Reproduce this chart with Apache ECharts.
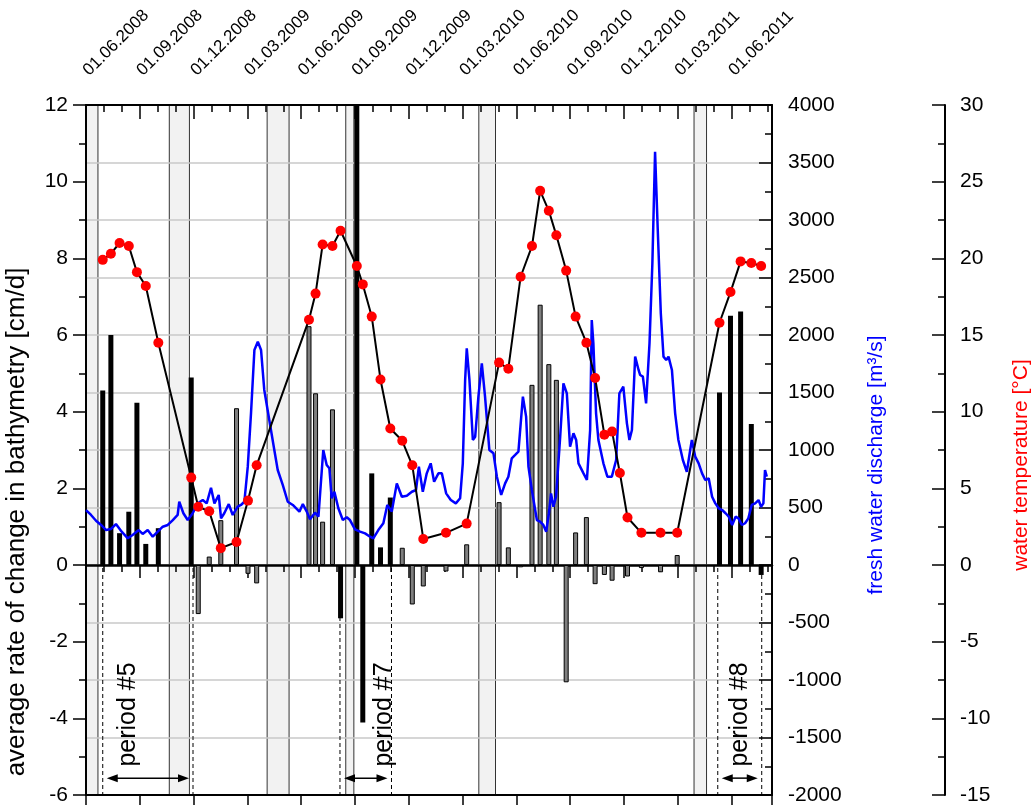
<!DOCTYPE html>
<html lang="en">
<head>
<meta charset="UTF-8">
<title>bathymetry change, discharge, water temperature</title>
<script src="https://cdn.jsdelivr.net/npm/echarts@6/dist/echarts.min.js"></script>
<style>
html, body { margin: 0; padding: 0; background: #fff; }
#main { width: 1031px; height: 805px; }
</style>
</head>
<body>
<div id="main"></div>
<script>
// survey campaigns: date, water temperature [°C], avg. rate of change [cm/d]
var surveyDates = [
    '2008-06-29','2008-07-13','2008-07-28','2008-08-13','2008-08-27','2008-09-11','2008-10-02','2008-11-27',
    '2008-12-09','2008-12-28','2009-01-17','2009-02-12','2009-03-02','2009-03-17',
    '2009-06-14','2009-06-25','2009-07-07','2009-07-24','2009-08-07','2009-09-04','2009-09-14','2009-09-29','2009-10-14','2009-10-31',
    '2009-11-20','2009-12-07','2009-12-26','2010-02-03','2010-03-08',
    '2010-05-02','2010-05-18','2010-06-08','2010-06-27','2010-07-11','2010-07-26','2010-08-08','2010-08-25','2010-09-10',
    '2010-09-28','2010-10-13','2010-10-29','2010-11-11','2010-11-24','2010-12-07','2010-12-31','2011-02-02','2011-02-28',
    '2011-05-11','2011-05-30','2011-06-16','2011-07-04','2011-07-21'
];
var waterTemp = [
    19.9, 20.3, 21.0, 20.8, 19.1, 18.2, 14.5, 5.7,
    3.8, 3.5, 1.1, 1.5, 4.2, 6.5,
    16.0, 17.7, 20.9, 20.8, 21.8, 19.5, 18.3, 16.2, 12.1, 8.9,
    8.1, 6.5, 1.7, 2.1, 2.7,
    13.2, 12.8, 18.8, 20.8, 24.4, 23.1, 21.5, 19.2, 16.2,
    14.5, 12.2, 8.5, 8.7, 6.0, 3.1, 2.1, 2.1, 2.1,
    15.8, 17.8, 19.8, 19.7, 19.5
];
var rateChange = [
    4.55, 6.0, 0.83, 1.39, 4.23, 0.55, 0.96, 4.89,
    -1.28, 0.22, 1.17, 4.09, -0.23, -0.48,
    6.23, 4.48, 1.13, 4.06, -1.39, 14, -4.11, 2.39, 0.46, 1.76,
    0.45, -1.03, -0.56, -0.17, 0.54,
    1.64, 0.46, -0.06, 4.70, 6.79, 5.24, 4.83, -3.06, 0.85,
    1.25, -0.5, -0.26, -0.41, null, -0.3, -0.08, -0.19, 0.26,
    4.5, 6.5, 6.61, 3.68, -0.26
];
// 1 = survey inside one of the marked periods (black bars), 0 = grey bars
var inPeriod = [
    1, 1, 1, 1, 1, 1, 1, 1,
    0, 0, 0, 0, 0, 0,
    0, 0, 0, 0, 1, 1, 1, 1, 1, 1,
    0, 0, 0, 0, 0,
    0, 0, 0, 0, 0, 0, 0, 0, 0,
    0, 0, 0, 0, 0, 0, 0, 0, 0,
    1, 1, 1, 1, 1
];

// fresh water discharge: time in months after 01.06.2008, value in m³/s
var dischargeMonth = [
    0.00,0.28,0.56,0.84,1.12,1.39,1.67,1.99,2.33,2.60,
    2.94,3.16,3.44,3.72,4.00,4.28,4.56,4.84,5.11,5.20,
    5.43,5.67,5.95,6.23,6.51,6.73,6.97,7.16,7.40,7.53,
    7.71,7.96,8.18,8.46,8.64,8.83,9.02,9.20,9.39,9.58,
    9.76,9.94,10.22,10.50,10.69,10.97,11.25,11.53,11.90,12.09,
    12.31,12.49,12.77,12.96,13.23,13.42,13.57,13.70,13.85,14.07,
    14.32,14.54,14.72,15.00,15.28,15.56,15.84,16.02,16.30,16.58,
    16.80,17.05,17.33,17.61,17.89,18.17,18.40,18.56,18.78,19.00,
    19.22,19.41,19.65,19.84,20.08,20.34,20.62,20.86,21.01,21.14,
    21.23,21.38,21.57,21.70,21.88,22.07,22.25,22.49,22.72,22.91,
    23.15,23.37,23.55,23.74,23.93,24.11,24.36,24.54,24.67,24.86,
    25.14,25.32,25.50,25.66,25.81,25.93,26.06,26.21,26.44,26.62,
    26.81,26.99,27.18,27.33,27.46,27.74,27.93,28.11,28.20,28.29,
    28.44,28.57,28.85,29.07,29.32,29.56,29.74,29.96,30.16,30.30,
    30.44,30.62,30.81,30.90,31.05,31.23,31.42,31.58,31.73,31.88,
    32.05,32.20,32.35,32.48,32.67,32.85,33.03,33.28,33.50,33.69,
    33.78,33.97,34.16,34.35,34.53,34.72,34.91,35.09,35.28,35.47,
    35.66,35.84,36.03,36.22,36.38,36.57,36.75,36.93,37.12,37.31,
    37.50,37.64,37.77,37.86,37.96
];
var dischargeValue = [
    478,435,385,348,304,313,356,290,232,261,
    304,270,304,246,290,333,348,391,435,550,
    450,391,450,536,565,536,672,536,609,406,
    450,530,435,507,522,550,855,1319,1870,1942,
    1870,1522,1261,1000,826,696,550,522,464,530,
    464,397,455,420,1000,870,841,580,637,493,
    391,415,391,310,290,275,246,232,304,363,
    522,464,710,594,603,637,652,855,637,797,
    884,724,797,797,623,565,536,580,884,1609,
    1884,1609,1087,1116,1464,1754,1464,1000,971,768,
    609,710,768,928,957,985,1464,1290,855,652,
    391,377,348,290,450,623,507,594,1116,1580,
    1493,1029,1145,1087,884,797,739,1174,2130,1928,
    1319,1087,884,768,768,913,1493,1551,1232,1087,
    1174,1812,1696,1652,1638,1406,1928,2624,3594,2913,
    2189,1812,1783,1812,1696,1319,1087,913,811,1000,
    1087,942,884,797,739,754,594,536,493,478,
    450,420,348,420,406,348,363,406,522,536,
    565,507,536,826,768
];

// shaded grey time bands
var bandStart = ['2008-06-01','2008-10-21','2009-04-04','2009-08-16','2010-03-29','2011-03-29'];
var bandEnd   = ['2008-06-21','2008-11-24','2009-05-11','2009-08-30','2010-04-26','2011-04-19'];

// marked periods
var periodNames = ['period #5', 'period #7', 'period #8'];
var periodStart = ['2008-06-29', '2009-08-06', '2011-05-08'];
var periodEnd   = ['2008-11-30', '2009-11-02', '2011-07-22'];
var periodLabelAt = ['2008-08-12', '2009-10-20', '2011-06-15'];

var FONT = '"Liberation Sans", Arial, sans-serif';

// date string -> months after 01.06.2008
function toMonth(s) {
    var p = s.split('-').map(Number);
    var dim = new Date(p[0], p[1], 0).getDate();
    return (p[0] - 2008) * 12 + (p[1] - 6) + (p[2] - 1) / dim;
}

function monthLabel(v) {
    var r = Math.round(v);
    if (Math.abs(v - r) > 1e-6 || r % 3 !== 0) return '';
    var m = 5 + r;
    var y = 2008 + Math.floor(m / 12);
    var mm = m % 12 + 1;
    return '01.' + (mm < 10 ? '0' : '') + mm + '.' + y;
}

function plainNum(v) { return String(v); }

var blackBars = [], grayBars = [], tempData = [];
surveyDates.forEach(function (d, i) {
    var m = toMonth(d);
    tempData.push([m, waterTemp[i]]);
    if (rateChange[i] == null) return;
    (inPeriod[i] ? blackBars : grayBars).push([m, rateChange[i]]);
});
var dischargeData = dischargeMonth.map(function (m, i) { return [m, dischargeValue[i]]; });
var bandData = bandStart.map(function (s, i) { return [toMonth(s), toMonth(bandEnd[i])]; });
var periodData = periodStart.map(function (s, i) {
    return [toMonth(s), toMonth(periodEnd[i]), toMonth(periodLabelAt[i]), i];
});

var black = '#000';
var xMax = 38.25;

function xAx(o) {
    var base = {
        type: 'value', min: 0, max: xMax, gridIndex: 0,
        axisLine: {show: false, onZero: false, lineStyle: {color: black, width: 2}},
        axisTick: {show: true, inside: false, length: 8, lineStyle: {color: black, width: 1.5}},
        axisLabel: {show: false},
        splitLine: {show: false}
    };
    return Object.assign(base, o);
}

var myChart = echarts.init(document.getElementById('main'), null, {renderer: 'canvas'});

var option = {
    animation: false,
    backgroundColor: '#fff',
    textStyle: {fontFamily: FONT},
    grid: {left: 86, right: 259, top: 105, bottom: 10, containLabel: false, outerBoundsMode: 'none'},
    xAxis: [
        // bottom frame, quarter ticks outward
        xAx({position: 'bottom', interval: 3,
            axisLine: {show: true, onZero: false, lineStyle: {color: black, width: 2}},
            axisTick: {show: true, inside: false, length: 12, lineStyle: {color: black, width: 1.5}}}),
        // top frame, quarter ticks + date labels
        xAx({position: 'top', interval: 3,
            axisLine: {show: true, onZero: false, lineStyle: {color: black, width: 2}},
            axisTick: {show: true, inside: true, length: 14, lineStyle: {color: black, width: 1.5}},
            axisLabel: {show: true, rotate: -45, margin: 32, fontSize: 17, color: black, fontFamily: FONT,
                formatter: monthLabel}}),
        // top monthly ticks
        xAx({position: 'top', interval: 1,
            axisTick: {show: true, inside: true, length: 7, lineStyle: {color: black, width: 1.5}}}),
        // zero line, quarter ticks
        xAx({position: 'bottom', interval: 3,
            axisLine: {show: true, onZero: true, onZeroAxisIndex: 0, lineStyle: {color: black, width: 2.5}},
            axisTick: {show: true, inside: false, length: 13, lineStyle: {color: black, width: 1.5}}}),
        // zero line, monthly ticks
        xAx({position: 'bottom', interval: 1,
            axisLine: {show: false, onZero: true, onZeroAxisIndex: 0},
            axisTick: {show: true, inside: false, length: 7, lineStyle: {color: black, width: 1.5}}})
    ],
    yAxis: [
        {
            type: 'value', position: 'left', min: -6, max: 12, interval: 2,
            name: 'average rate of change in bathymetry [cm/d]',
            nameLocation: 'middle', nameGap: 56, nameMoveOverlap: false,
            nameTextStyle: {fontSize: 26, color: black, fontFamily: FONT, padding: [0, 144, 0, 0]},
            axisLine: {show: true, onZero: false, lineStyle: {color: black, width: 2}},
            axisTick: {show: true, inside: false, length: 13, lineStyle: {color: black, width: 1.5}},
            minorTick: {show: true, splitNumber: 2, length: 7, lineStyle: {color: black, width: 1.5}},
            axisLabel: {fontSize: 21, color: black, margin: 18, fontFamily: FONT},
            splitLine: {show: false}
        },
        {
            type: 'value', position: 'right', min: -2000, max: 4000, interval: 500,
            name: 'fresh water discharge [m³/s]',
            nameLocation: 'middle', nameGap: 94, nameMoveOverlap: false,
            nameTextStyle: {fontSize: 21, color: '#0000ff', fontFamily: FONT, padding: [0, 30, 0, 0]},
            axisLine: {show: true, onZero: false, lineStyle: {color: black, width: 2}},
            axisTick: {show: true, inside: true, length: 13, lineStyle: {color: black, width: 1.5}},
            minorTick: {show: true, splitNumber: 2, length: 7, lineStyle: {color: black, width: 1.5}},
            axisLabel: {fontSize: 21, color: black, margin: 16, fontFamily: FONT, formatter: plainNum},
            splitLine: {show: true, lineStyle: {color: '#c8c8c8', width: 1.5}}
        },
        {
            type: 'value', position: 'right', offset: 173, min: -15, max: 30, interval: 5,
            name: 'water temperature [°C]',
            nameLocation: 'middle', nameGap: 66, nameMoveOverlap: false,
            nameTextStyle: {fontSize: 21, color: '#ff0000', fontFamily: FONT, padding: [0, 30, 0, 0]},
            axisLine: {show: true, onZero: false, lineStyle: {color: black, width: 2}},
            axisTick: {show: true, inside: true, length: 13, lineStyle: {color: black, width: 1.5}},
            minorTick: {show: true, splitNumber: 2, length: 7, lineStyle: {color: black, width: 1.5}},
            axisLabel: {fontSize: 21, color: black, margin: 15, fontFamily: FONT, formatter: plainNum},
            splitLine: {show: false}
        }
    ],
    series: [
        {
            name: 'bands', type: 'custom', z: -1, silent: true,
            xAxisIndex: 0, yAxisIndex: 0,
            data: bandData,
            encode: {x: [0, 1]},
            renderItem: function (params, api) {
                var p0 = api.coord([api.value(0), 12]);
                var p1 = api.coord([api.value(1), -6]);
                return {
                    type: 'rect',
                    shape: {x: p0[0], y: p0[1], width: p1[0] - p0[0], height: p1[1] - p0[1]},
                    style: {fill: '#f2f2f2', stroke: '#333', lineWidth: 1}
                };
            }
        },
        {
            name: 'rate (other)', type: 'bar', xAxisIndex: 0, yAxisIndex: 0,
            data: grayBars, barWidth: 5, barGap: '-100%', clip: true, z: 3,
            itemStyle: {color: '#7f7f7f', borderColor: black, borderWidth: 1}
        },
        {
            name: 'rate (period)', type: 'bar', xAxisIndex: 0, yAxisIndex: 0,
            data: blackBars, barWidth: 5, barGap: '-100%', clip: true, z: 3,
            itemStyle: {color: black}
        },
        {
            name: 'periods', type: 'custom', silent: true, z: 4,
            xAxisIndex: 0, yAxisIndex: 0,
            data: periodData,
            encode: {x: [0, 1, 2]},
            renderItem: function (params, api) {
                var xs = api.coord([api.value(0), 0])[0];
                var xe = api.coord([api.value(1), 0])[0];
                var xl = api.coord([api.value(2), 0])[0];
                var y0 = api.coord([0, 0])[1];
                var yb = api.coord([0, -6])[1];
                var ya = api.coord([0, -5.56])[1];
                var yt = api.coord([0, -3.9])[1];
                var a0 = xs + 4, a1 = xe - 4, ah = 11, aw = 4;
                var dash = {stroke: black, lineWidth: 1, lineDash: [4, 3]};
                return {
                    type: 'group',
                    children: [
                        {type: 'line', shape: {x1: xs, y1: y0 + 3, x2: xs, y2: yb}, style: dash},
                        {type: 'line', shape: {x1: xe, y1: y0 + 3, x2: xe, y2: yb}, style: dash},
                        {type: 'line', shape: {x1: a0 + 4, y1: ya, x2: a1 - 4, y2: ya},
                            style: {stroke: black, lineWidth: 1.5}},
                        {type: 'polygon', shape: {points: [[a0, ya], [a0 + ah, ya - aw], [a0 + ah, ya + aw]]},
                            style: {fill: black}},
                        {type: 'polygon', shape: {points: [[a1, ya], [a1 - ah, ya - aw], [a1 - ah, ya + aw]]},
                            style: {fill: black}},
                        {type: 'text', x: xl, y: yt, rotation: Math.PI / 2,
                            style: {text: periodNames[api.value(3)], fill: black, fontSize: 25, fontFamily: FONT,
                                align: 'center', verticalAlign: 'middle'}}
                    ]
                };
            }
        },
        {
            name: 'fresh water discharge', type: 'line', xAxisIndex: 0, yAxisIndex: 1,
            data: dischargeData, symbol: 'none', showSymbol: false, z: 5,
            lineStyle: {color: '#0000ff', width: 2.5}
        },
        {
            name: 'water temperature', type: 'line', xAxisIndex: 0, yAxisIndex: 2,
            data: tempData, symbol: 'circle', symbolSize: 10, showSymbol: true, z: 6,
            itemStyle: {color: '#ff0000'},
            lineStyle: {color: black, width: 2}
        }
    ]
};

myChart.setOption(option);
</script>
</body>
</html>
